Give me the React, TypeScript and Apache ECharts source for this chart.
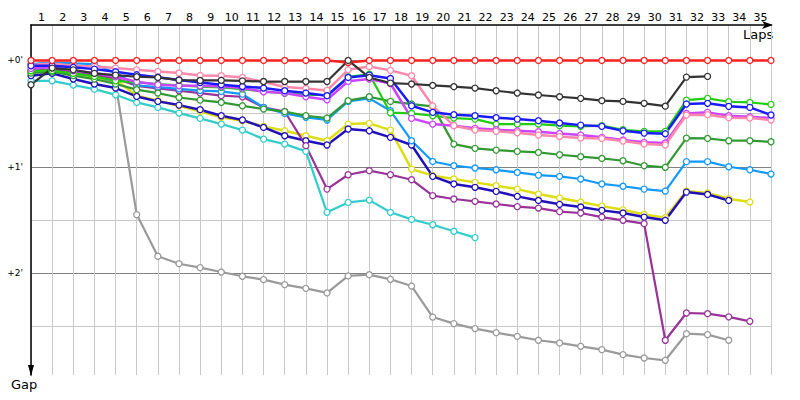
import React, { useEffect, useRef } from "react";
import * as echarts from "echarts";

const lapLabels = Array.from({ length: 35 }, (_, i) => String(i + 1));

const redGap = [0, 0, 0, 0, 0, 0, 0, 0, 0, 0, 0, 0, 0, 0, 0, 1.2, 0, 0, 0, 0, 0, 0, 0, 0, 0, 0, 0, 0, 0, 0, 0, 0, 0, 0, 0, 0];
const blackGap = [13.7, 4.3, 5.3, 7.3, 8.3, 9.2, 9.6, 11.1, 11.3, 11.2, 11.5, 11.9, 11.9, 11.9, 11.9, 0, 9.6, 12.8, 13.3, 14.1, 14.8, 15.6, 17.1, 18.4, 19.5, 20.5, 21.4, 22.7, 23.1, 24.2, 25.8, 9.4, 9.0, null, null, null];
const pinkGap = [2.6, 1.7, 3.0, 3.4, 4.3, 5.3, 6.2, 7.1, 8.5, 8.6, 9.6, 12.0, 15.0, 15.8, 16.9, 5.3, 3.4, 5.6, 8.6, 25.6, 36.8, 39.3, 40.0, 40.8, 42.1, 42.9, 43.8, 44.0, 45.5, 47.2, 47.7, 30.8, 30.6, 32.3, 32.5, 33.6];
const blueGap = [3.0, 3.0, 3.9, 4.9, 6.4, 8.1, 9.5, 11.0, 12.5, 13.7, 14.7, 15.6, 17.1, 18.4, 19.9, 9.6, 8.3, 10.2, 25.6, 29.3, 30.6, 31.2, 32.3, 33.1, 34.0, 35.3, 36.5, 37.2, 39.7, 41.0, 41.4, 24.6, 24.2, 25.9, 26.5, 30.8];
const limeGap = [5.8, 5.8, 7.3, 9.0, 11.5, 12.4, 13.3, 14.1, 14.8, 15.2, 16.2, 17.5, 18.6, 19.5, 19.5, 9.2, 7.8, 29.5, 29.9, 31.2, 32.5, 33.1, 35.9, 35.9, 35.9, 36.8, 37.2, 36.8, 39.1, 40.0, 40.0, 22.4, 21.4, 23.3, 23.7, 24.8];
const greenGap = [7.1, 6.4, 8.6, 10.5, 13.3, 16.5, 18.4, 20.9, 22.4, 23.7, 25.6, 27.4, 28.9, 31.2, 32.5, 22.7, 20.5, 23.1, 24.6, 25.9, 47.2, 49.6, 50.6, 51.3, 51.9, 53.2, 54.3, 55.3, 56.6, 59.4, 60.3, 43.8, 44.0, 45.3, 45.3, 45.9];
const violetGap = [4.5, 3.9, 5.8, 7.1, 9.2, 12.0, 13.7, 14.3, 14.3, 14.7, 15.6, 17.7, 18.4, 20.5, 22.2, 11.8, 10.5, 13.0, 32.7, 35.9, 36.8, 38.3, 39.1, 39.7, 40.2, 41.2, 42.1, 43.4, 44.9, 46.2, 46.6, 29.9, 29.3, 31.2, 31.8, 32.5];
const skyGap = [2.1, 1.1, 1.7, 2.1, 7.1, 14.0, 15.0, 16.0, 17.0, 17.5, 19.0, 26.5, 29.9, 32.1, 33.6, 23.1, 21.4, 28.4, 45.3, 57.0, 59.4, 60.7, 61.7, 63.2, 64.7, 65.4, 66.9, 69.7, 71.0, 72.6, 73.7, 57.1, 57.1, 60.0, 61.7, 64.1];
const purpleGap = [5.8, 4.9, 6.2, 8.1, 10.2, 14.3, 15.8, 17.1, 18.4, 19.9, 20.5, 26.5, 28.8, 48.1, 72.6, 64.5, 62.2, 64.5, 67.3, 76.3, 78.2, 79.5, 81.0, 82.5, 83.3, 85.3, 86.1, 88.4, 90.2, 92.1, 157.9, 142.5, 142.9, 144.7, 147.2, null];
const navyGap = [8.6, 7.3, 10.5, 13.3, 15.6, 20.3, 23.1, 25.2, 27.8, 31.2, 33.6, 37.8, 42.5, 45.3, 47.7, 38.7, 39.7, 43.4, 47.7, 65.4, 69.7, 71.6, 73.9, 76.7, 79.0, 81.2, 82.7, 84.6, 86.1, 88.4, 90.2, 74.3, 75.6, 79.0, null, null];
const yellowGap = [6.4, 5.3, 7.1, 9.6, 10.9, 19.9, 22.7, 25.6, 28.9, 32.1, 34.0, 37.2, 39.7, 42.5, 45.3, 35.9, 35.5, 39.3, 61.3, 65.0, 66.9, 68.8, 70.7, 72.6, 75.4, 77.6, 79.9, 82.2, 84.3, 86.9, 88.7, 73.7, 74.8, 78.0, 79.9, null];
const cyanGap = [11.5, 11.5, 13.9, 16.2, 19.4, 23.7, 26.5, 29.7, 32.7, 35.9, 39.3, 44.4, 47.2, 51.3, 85.7, 80.1, 78.8, 85.7, 89.7, 92.7, 96.4, 100.0, null, null, null, null, null, null, null, null, null, null, null, null, null, null];
const grayGap = [6.8, 5.8, 7.7, 9.0, 13.0, 87.0, 110.5, 114.7, 116.9, 119.4, 121.8, 123.7, 126.5, 128.6, 131.2, 121.6, 120.9, 123.5, 127.3, 144.8, 148.5, 151.3, 153.6, 155.7, 157.9, 159.4, 161.3, 163.2, 166.0, 167.9, 169.2, 154.2, 154.7, 157.9, null, null];

const seriesDefs: { name: string; color: string; values: (number | null)[]; width: number }[] = [
  { name: "gray", color: "#9a9a9a", values: grayGap, width: 2.2 },
  { name: "cyan", color: "#33cccc", values: cyanGap, width: 2.2 },
  { name: "yellow", color: "#dddd11", values: yellowGap, width: 2.5 },
  { name: "navy", color: "#2211bb", values: navyGap, width: 2.5 },
  { name: "purple", color: "#993399", values: purpleGap, width: 2.2 },
  { name: "sky", color: "#1199ff", values: skyGap, width: 2.2 },
  { name: "green", color: "#339933", values: greenGap, width: 2.2 },
  { name: "lime", color: "#22cc11", values: limeGap, width: 2.2 },
  { name: "violet", color: "#cc44ff", values: violetGap, width: 2.5 },
  { name: "pink", color: "#ff88aa", values: pinkGap, width: 2.5 },
  { name: "blue", color: "#1a1aff", values: blueGap, width: 2.5 },
  { name: "red", color: "#ff2020", values: redGap, width: 2.5 },
  { name: "black", color: "#333333", values: blackGap, width: 2.2 },
];

export default function App() {
  const ref = useRef<HTMLDivElement>(null);
  useEffect(() => {
    if (!ref.current) return;
    const chart = echarts.init(ref.current, undefined, { renderer: "svg" });
    const series = seriesDefs.map((s) => ({
      type: "line",
      name: s.name,
      xAxisIndex: 0,
      yAxisIndex: 0,
      data: s.values
        .map((v, i) => (v === null ? null : [i, v]))
        .filter((d) => d !== null),
      symbol: "circle",
      symbolSize: 6,
      showAllSymbol: true,
      lineStyle: { color: s.color, width: s.width },
      itemStyle: { color: "#ffffff", borderColor: s.color, borderWidth: 1.3 },
      emphasis: { disabled: true },
    }));
    chart.setOption({
      animation: false,
      backgroundColor: "#ffffff",
      grid: { left: 31, right: 29, top: 25, bottom: 25, containLabel: false },
      xAxis: [
        {
          type: "value",
          position: "top",
          min: 0,
          max: 35,
          interval: 1,
          axisLine: {
            show: true,
            onZero: false,
            lineStyle: { color: "#000000", width: 1.5 },
            symbol: ["none", "arrow"],
            symbolSize: [6, 11],
            symbolOffset: [0, 2],
          },
          axisTick: { show: false },
          axisLabel: { show: false },
          splitLine: { show: true, lineStyle: { color: "#c8c8c8", width: 1 } },
        },
        {
          type: "category",
          position: "top",
          data: lapLabels,
          boundaryGap: true,
          axisLine: { show: false },
          axisTick: { show: false },
          splitLine: { show: false },
          axisLabel: {
            show: true,
            interval: 0,
            color: "#000000",
            fontFamily: "DejaVu Sans",
            fontSize: 11,
            margin: 2,
          },
        },
      ],
      yAxis: {
        type: "value",
        inverse: true,
        min: -20,
        max: 177.5,
        interval: 10,
        axisLine: {
          show: true,
          onZero: false,
          lineStyle: { color: "#000000", width: 1.5 },
          symbol: ["none", "none"],
        },
        axisTick: { show: false },
        axisLabel: {
          show: true,
          color: "#000000",
          fontFamily: "DejaVu Sans",
          fontSize: 9,
          margin: 8,
          formatter: (v: number) => (v >= 0 && v % 60 === 0 ? `+${v / 60}'` : ""),
        },
        splitLine: {
          show: true,
          showMaxLine: false,
          lineStyle: {
            color: ["rgba(0,0,0,0)", "rgba(0,0,0,0)", "#808080", "rgba(0,0,0,0)", "rgba(0,0,0,0)", "#c8c8c8"],
            width: 1,
          },
        },
      },
      graphic: [
        {
          type: "polygon",
          shape: { points: [[28, 365], [34, 365], [31, 376]] },
          style: { fill: "#000000" },
          z: 100,
        },
        {
          type: "text",
          left: 743,
          top: 28,
          style: { text: "Laps", fill: "#000000", font: "13px 'DejaVu Sans'" },
        },
        {
          type: "text",
          left: 11,
          top: 378,
          style: { text: "Gap", fill: "#000000", font: "13px 'DejaVu Sans'" },
        },
      ],
      series,
    });
    return () => chart.dispose();
  }, []);
  return (
    <div
      ref={ref}
      style={{ position: "fixed", left: 0, top: 0, width: 800, height: 400, background: "#fff" }}
    />
  );
}
